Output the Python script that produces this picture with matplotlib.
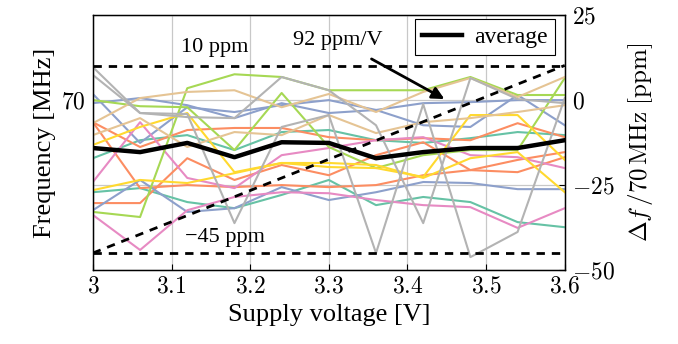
import numpy as np
import matplotlib
matplotlib.use('Agg')
import matplotlib.pyplot as plt

plt.rcParams['font.family'] = ['Liberation Serif', 'DejaVu Serif']
plt.rcParams['mathtext.fontset'] = 'cm'

# supply voltage sweep [V]
voltage = [3.0, 3.06, 3.12, 3.18, 3.24, 3.3, 3.36, 3.42, 3.48, 3.54, 3.6]

# frequency deviation per chip [ppm]
teal_a = [-17.1, -11.8, -10.3, -14.7, -9.4, -8.8, -11.8, -12.6, -11.2, -9.4, -10.3]
teal_b = [-27.1, -25.9, -30.0, -31.8, -27.9, -23.5, -30.9, -28.5, -30.0, -35.9, -37.4]
orange_a = [-6.5, -13.8, -8.8, -8.2, -8.2, -10.9, -11.8, -11.2, -11.8, -6.8, -10.9]
orange_b = [-6.5, -25.9, -25.0, -25.6, -25.0, -25.6, -25.0, -22.1, -20.6, -17.6, -15.3]
orange_c = [-30.3, -30.3, -17.1, -23.5, -19.1, -22.1, -16.2, -12.4, -20.6, -21.2, -16.8]
blue_a = [1.8, -12.6, -2.1, -3.5, -1.5, 0.0, -2.9, -0.9, -0.6, 0.0, 0.0]
blue_b = [-0.9, 0.6, -1.5, -5.3, -0.9, -3.8, -2.9, -7.4, -7.9, 1.5, -7.4]
blue_c = [-32.4, -23.5, -32.9, -31.8, -25.6, -29.4, -27.1, -24.1, -24.4, -26.2, -26.2]
pink_a = [-24.1, -6.5, -22.9, -25.9, -16.2, -14.1, -11.8, -10.9, -16.2, -16.8, -20.0]
pink_b = [-33.8, -44.1, -32.4, -28.5, -27.1, -27.4, -29.4, -30.9, -31.5, -37.6, -31.8]
green_a = [-32.9, -34.4, 3.5, 7.6, 6.8, 2.9, 2.9, 2.9, 6.8, 1.5, 1.5]
green_b = [0.0, -1.8, -2.1, -14.7, 2.1, -13.8, -20.0, -16.2, -14.7, -14.7, 6.5]
yellow_a = [-13.2, -7.9, -3.8, -21.2, -18.5, -19.7, -20.0, -22.6, -4.4, -4.4, -17.6]
yellow_b = [-26.5, -23.5, -24.4, -21.5, -18.5, -18.5, -19.1, -22.9, -17.1, -15.3, -27.1]
tan_a = [-6.8, 0.6, 2.4, 2.9, -2.1, 1.8, -3.5, 2.4, 6.5, 0.9, 6.8]
tan_b = [-10.3, -5.3, -13.8, -9.4, -10.3, -4.4, -9.7, -6.5, -5.3, -3.5, -1.5]
grey_a = [9.7, -3.8, -5.0, -5.3, 6.8, 2.9, -7.4, -36.2, 6.5, 0.3, -0.9]
grey_b = [7.4, -3.8, -4.1, -36.2, -7.9, -4.4, -45.0, -1.2, -46.2, -38.8, 0.6]

average = [-14.1, -15.3, -12.6, -16.8, -12.4, -12.6, -17.1, -15.3, -14.1, -14.1, -11.8]

upper_bound = 10
lower_bound = -45
slope = 92  # ppm/V

xticks = [3.0, 3.1, 3.2, 3.3, 3.4, 3.5, 3.6]
xtick_labels = ['3', '3.1', '3.2', '3.3', '3.4', '3.5', '3.6']
ppm_ticks = [25, 0, -25, -50]

series = [
    (teal_a, '#66c2a5'), (teal_b, '#66c2a5'),
    (orange_a, '#fc8d62'), (orange_b, '#fc8d62'), (orange_c, '#fc8d62'),
    (blue_a, '#8da0cb'), (blue_b, '#8da0cb'), (blue_c, '#8da0cb'),
    (pink_a, '#e78ac3'), (pink_b, '#e78ac3'),
    (green_a, '#a6d854'), (green_b, '#a6d854'),
    (yellow_a, '#ffd92f'), (yellow_b, '#ffd92f'),
    (tan_a, '#e5c494'), (tan_b, '#e5c494'),
    (grey_a, '#b3b3b3'), (grey_b, '#b3b3b3'),
]

fig = plt.figure(figsize=(6.78, 3.44), dpi=100)
ax = fig.add_axes([0.137, 0.215, 0.696, 0.741])
ax2 = ax.twinx()

for vals, col in series:
    ax.plot(voltage, vals, color=col, lw=1.5, zorder=2)

ax.plot(voltage, average, color='black', lw=3.2, zorder=4, label='average')

# bounds and slope
dash = (0, (3, 2.5))
ax.axhline(upper_bound, color='black', lw=2, ls=dash, zorder=3)
ax.axhline(lower_bound, color='black', lw=2, ls=dash, zorder=3)
vx = np.array([voltage[0], voltage[-1]])
ax.plot(vx, lower_bound + slope * (vx - voltage[0]), color='black', lw=2,
        ls=dash, zorder=3)

ax.text(3.155, 15.5, '10 ppm', ha='center', va='center', fontsize=16)
ax.text(3.168, -40.5, '\u221245 ppm', ha='center', va='center', fontsize=16)
ax.annotate('92 ppm/V', xy=(3.447, 0.3), xytext=(3.312, 17.5),
            ha='center', va='center', fontsize=16,
            arrowprops=dict(arrowstyle='-|>', color='black', lw=2,
                            shrinkA=9, shrinkB=0, mutation_scale=18))

ax.set_xlim(3.0, 3.6)
ax.set_ylim(-50, 25)
ax2.set_ylim(-50, 25)

ax.set_xticks(xticks)
ax.set_xticklabels(['$%s$' % t for t in xtick_labels], fontsize=17)
ax.set_yticks([0])
ax.set_yticklabels(['$70$'], fontsize=17)
ax2.set_yticks(ppm_ticks)
ax2.set_yticklabels(['$%d$' % t for t in ppm_ticks], fontsize=17)

ax.grid(True, axis='x', color='#c8c8c8', lw=0.9)
ax2.grid(True, axis='y', color='#c8c8c8', lw=0.9)
ax.set_axisbelow(True)
ax2.set_zorder(-1)
ax.patch.set_visible(False)

ax.tick_params(direction='in', length=4, pad=5)
ax2.tick_params(direction='in', length=4, pad=5)

ax.set_xlabel('Supply voltage [V]', fontsize=19, labelpad=4)
ax.set_ylabel('Frequency [MHz]', fontsize=19, labelpad=4)
ax2.set_ylabel(r'$\Delta f\,/70\,\mathrm{MHz}\ [\mathrm{ppm}]$', fontsize=18, labelpad=8)

leg = ax.legend(loc='upper right', fontsize=17, handlelength=1.7, fancybox=False,
                edgecolor='black', framealpha=1, borderpad=0.3, handletextpad=0.5,
                borderaxespad=0, bbox_to_anchor=(0.979, 0.984))
leg.get_frame().set_linewidth(0.8)

for s in ax.spines.values():
    s.set_linewidth(1.0)

fig.savefig('out.png', dpi=100)
